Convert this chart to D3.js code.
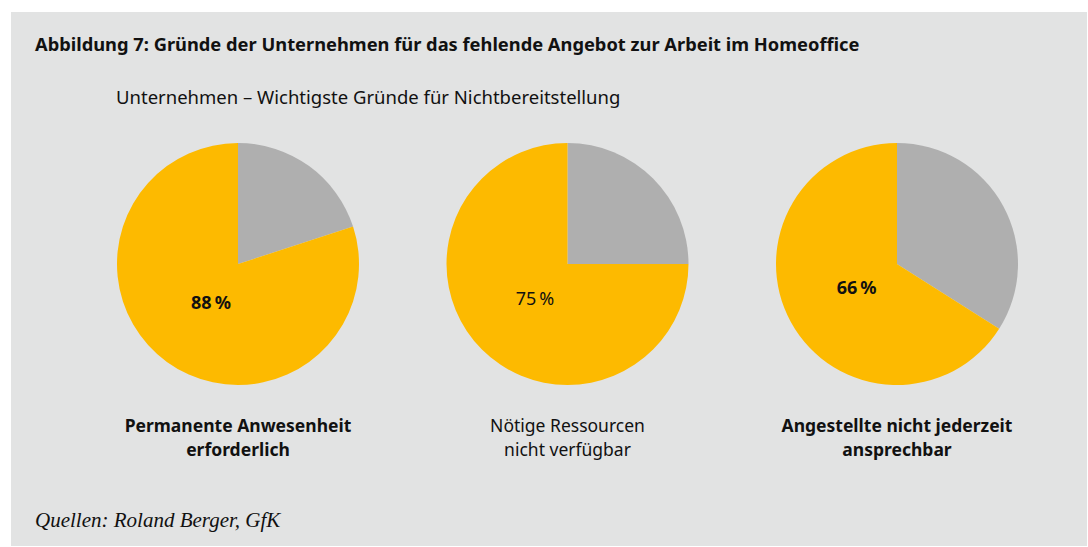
<!DOCTYPE html>
<html lang="de">
<head>
<meta charset="UTF-8">
<title>Abbildung 7</title>
<script src="https://cdn.jsdelivr.net/npm/d3@7"></script>
<style>
  body { margin: 0; background: #fff; }
  svg text { font-family: "Noto Sans", sans-serif; fill: #111; }
</style>
</head>
<body>
<svg id="chart" width="1088" height="547"></svg>
<script>
// reasons (two lines each) and the shares as drawn
var reasons = [
    ["Permanente Anwesenheit", "erforderlich"],
    ["Nötige Ressourcen", "nicht verfügbar"],
    ["Angestellte nicht jederzeit", "ansprechbar"]
];
var yesShare = [80, 75, 66];          // yellow slice as drawn
var restShare = [20, 25, 34];         // grey slice
var pctLabels = ["88\u202F%", "75\u202F%", "66\u202F%"];
var boldLabel = [true, false, true];

var svg = d3.select("#chart"),
    width = +svg.attr("width"),
    height = +svg.attr("height");

// grey panel
svg.append("rect")
    .attr("x", 11).attr("y", 12)
    .attr("width", width - 12).attr("height", height - 13)
    .attr("fill", "#e2e3e3");

svg.append("text")
    .attr("x", 35).attr("y", 51)
    .attr("font-size", 18.3).attr("font-weight", "bold")
    .text("Abbildung 7: Gründe der Unternehmen für das fehlende Angebot zur Arbeit im Homeoffice");

svg.append("text")
    .attr("x", 116).attr("y", 104)
    .attr("font-size", 18.5)
    .text("Unternehmen – Wichtigste Gründe für Nichtbereitstellung");

var x = d3.scalePoint()
    .domain(d3.range(reasons.length))
    .range([238, 897]);

var radius = 121;
var cy = 264;

var pie = d3.pie().sort(null).value(function (d) { return d.v; });
var arc = d3.arc().innerRadius(0).outerRadius(radius);
var labelArc = d3.arc().innerRadius(0).outerRadius(92);

reasons.forEach(function (r, i) {
    // grey first so it starts at 12 o'clock, clockwise
    var slices = pie([{ k: "rest", v: restShare[i] }, { k: "yes", v: yesShare[i] }]);
    var g = svg.append("g").attr("transform", "translate(" + x(i) + "," + cy + ")");

    g.selectAll("path")
        .data(slices)
        .enter()
        .append("path")
        .attr("d", arc)
        .attr("fill", function (d) { return d.data.k == "yes" ? "#fdba00" : "#afafaf"; });

    var c = labelArc.centroid(slices[1]);
    g.append("text")
        .attr("x", c[0]).attr("y", c[1] + 1)
        .attr("text-anchor", "middle")
        .attr("dominant-baseline", "central")
        .attr("font-size", 18)
        .attr("font-weight", boldLabel[i] ? "bold" : "normal")
        .text(pctLabels[i]);

    var t = svg.append("text")
        .attr("text-anchor", "middle")
        .attr("font-size", 17.5)
        .attr("font-weight", boldLabel[i] ? "bold" : "normal");
    r.forEach(function (line, j) {
        t.append("tspan")
            .attr("x", x(i))
            .attr("y", 432 + j * 24)
            .text(line);
    });
});

svg.append("text")
    .attr("x", 35).attr("y", 527)
    .style("font-family", "'Liberation Serif', serif")
    .attr("font-style", "italic")
    .attr("font-size", 21)
    .text("Quellen: Roland Berger, GfK");
</script>
</body>
</html>
